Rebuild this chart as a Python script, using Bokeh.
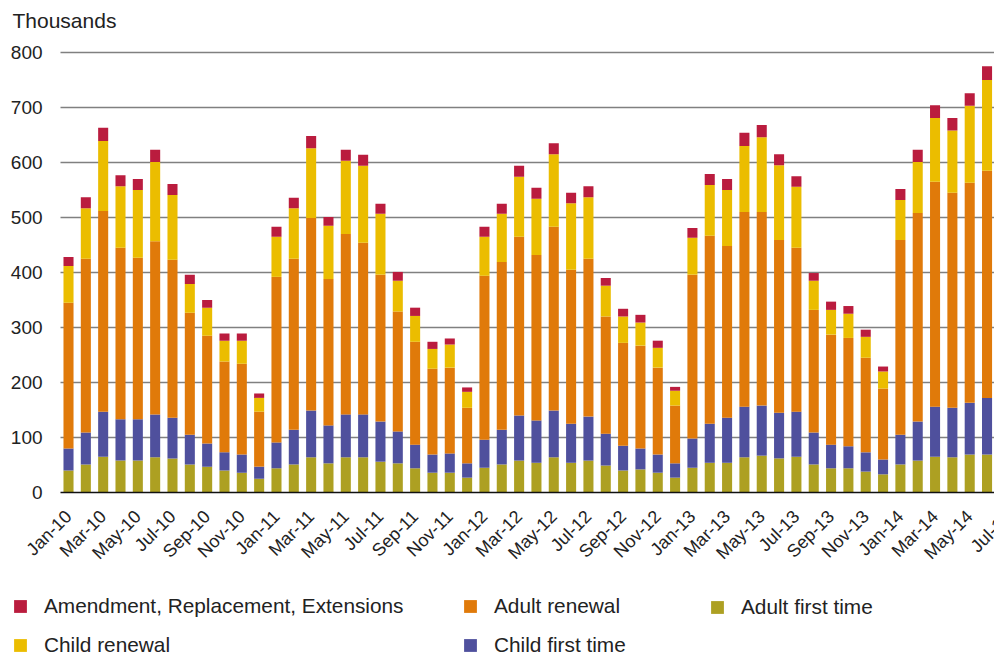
import math
from bokeh.plotting import figure
from bokeh.models import Range1d, FixedTicker, Legend, LegendItem, Label, BoxAnnotation
from bokeh.embed import file_html
from bokeh.resources import INLINE

MON = ["Jan", "Feb", "Mar", "Apr", "May", "Jun", "Jul", "Aug", "Sep", "Oct", "Nov", "Dec"]
months = [f"{m}-{y}" for y in range(10, 15) for m in MON][:54]   # Jan-10 .. Jun-14
tick_labels = [f"{m}-{y}" for y in range(10, 15) for m in MON[::2]][:28]  # Jan-10 .. Jul-14

# thousands
adult_first = [40, 51, 65, 58, 58, 64, 62, 51, 47, 40, 36, 25,
               44, 51, 64, 53, 64, 64, 56, 53, 44, 36, 36, 27,
               45, 51, 58, 54, 64, 54, 58, 49, 40, 42, 36, 27,
               45, 54, 54, 64, 67, 62, 65, 51, 44, 44, 38, 33,
               51, 58, 65, 64, 69, 69]
child_first = [40, 58, 82, 75, 75, 78, 74, 54, 42, 33, 33, 22,
               47, 63, 85, 69, 78, 78, 73, 58, 43, 33, 35, 26,
               51, 63, 82, 77, 85, 71, 80, 58, 45, 38, 33, 26,
               53, 71, 82, 92, 91, 83, 82, 58, 43, 40, 35, 27,
               54, 71, 91, 90, 94, 103]
adult_renewal = [265, 316, 365, 312, 294, 315, 287, 222, 196, 165, 165, 100,
                 301, 311, 350, 266, 328, 312, 267, 218, 187, 156, 156, 101,
                 298, 305, 325, 301, 334, 280, 287, 213, 187, 187, 158, 105,
                 298, 342, 312, 354, 352, 314, 298, 223, 200, 197, 172, 129,
                 354, 379, 409, 391, 400, 413]
child_renewal = [67, 92, 127, 112, 123, 144, 118, 52, 51, 38, 42, 25,
                 73, 92, 127, 97, 133, 140, 111, 56, 47, 36, 42, 29,
                 71, 88, 109, 102, 132, 121, 112, 56, 48, 42, 36, 27,
                 67, 92, 102, 120, 136, 136, 111, 53, 45, 44, 38, 31,
                 73, 93, 116, 113, 140, 165]
amendment = [16, 20, 24, 20, 20, 22, 20, 17, 14, 13, 13, 8,
             18, 19, 22, 16, 20, 20, 18, 16, 15, 13, 11, 8,
             18, 18, 20, 20, 20, 19, 20, 14, 14, 14, 13, 7,
             18, 20, 20, 24, 22, 20, 19, 14, 15, 14, 13, 9,
             20, 22, 23, 23, 23, 25]

series = ["adult_first", "child_first", "adult_renewal", "child_renewal", "amendment"]
names = ["Adult first time", "Child first time", "Adult renewal", "Child renewal",
         "Amendment, Replacement, Extensions"]
colors = ["#ADA022", "#4F509D", "#E07A0A", "#EBBD00", "#BA1C3E"]

source = dict(x=list(range(len(months))), month=months,
              adult_first=adult_first, child_first=child_first,
              adult_renewal=adult_renewal, child_renewal=child_renewal,
              amendment=amendment)

FONT = "Liberation Sans"
TXT = "#222222"

X0, X1 = -0.46, 53.43          # visible bar area
p = figure(width=994, height=656, output_backend="svg", toolbar_location=None,
           x_range=Range1d(-3.924, X1), y_range=Range1d(-298.2, 894.5),
           min_border=0)
p.outline_line_color = None
p.background_fill_color = "white"

# axes
p.yaxis.fixed_location = X0
p.yaxis.ticker = FixedTicker(ticks=list(range(0, 801, 100)))
p.yaxis.axis_line_color = None
p.yaxis.major_tick_line_color = None
p.yaxis.minor_tick_line_color = None
p.yaxis.major_label_standoff = 12
p.yaxis.major_label_text_font = FONT
p.yaxis.major_label_text_font_size = "19px"
p.yaxis.major_label_text_color = TXT

p.xaxis.fixed_location = 0
p.xaxis.bounds = (X0, X1)
p.xaxis.ticker = FixedTicker(ticks=list(range(0, 56, 2)))
p.xaxis.major_label_overrides = {i * 2: lab for i, lab in enumerate(tick_labels)}
p.xaxis.major_label_orientation = math.pi / 4
p.xaxis.axis_line_color = "#111111"
p.xaxis.axis_line_width = 1.5
p.xaxis.major_tick_line_color = None
p.xaxis.minor_tick_line_color = None
p.xaxis.major_label_standoff = 15
p.xaxis.major_label_text_font = FONT
p.xaxis.major_label_text_font_size = "18px"
p.xaxis.major_label_text_color = TXT

p.xgrid.grid_line_color = None
p.ygrid.ticker = FixedTicker(ticks=list(range(100, 801, 100)))
p.ygrid.grid_line_color = "#808080"
p.ygrid.grid_line_width = 1.6
try:
    p.ygrid.cross_bounds = (X0, X1)
except Exception:
    p.add_layout(BoxAnnotation(right=X0, fill_color="white", fill_alpha=1,
                               line_color=None, level="underlay"))

rs = p.vbar_stack(series, x="x", width=0.58, source=source,
                  fill_color=colors, line_color=None)

# unit label
p.add_layout(Label(x=12, y=656 - 20, x_units="screen", y_units="screen",
                   text="Thousands", text_font=FONT, text_font_size="21px",
                   text_color=TXT, text_baseline="alphabetic"))

# partially visible last tick label (cut by the right edge, as in the original)
p.add_layout(Label(x=54, y=0, text=tick_labels[-1], angle=math.pi / 4,
                   text_align="right", text_baseline="middle",
                   y_offset=-22, x_offset=4,
                   text_font=FONT, text_font_size="18px", text_color=TXT))

r = dict(zip(series, rs))

def make_legend(keys, x, y):
    items = [LegendItem(label=names[series.index(k)], renderers=[r[k]]) for k in keys]
    leg = Legend(items=items, location=(x, y), orientation="vertical",
                 padding=0, margin=0, spacing=15, border_line_color=None,
                 background_fill_alpha=0, glyph_width=16, glyph_height=16,
                 label_height=15, label_standoff=16,
                 label_text_font=FONT, label_text_font_size="20.8px",
                 label_text_color=TXT)
    p.add_layout(leg, "center")

make_legend(["amendment", "child_renewal"], 12, -1)
make_legend(["adult_renewal", "child_first"], 462, -1)
make_legend(["adult_first"], 709, 37)

open("out.html", "w").write(file_html(p, INLINE))
